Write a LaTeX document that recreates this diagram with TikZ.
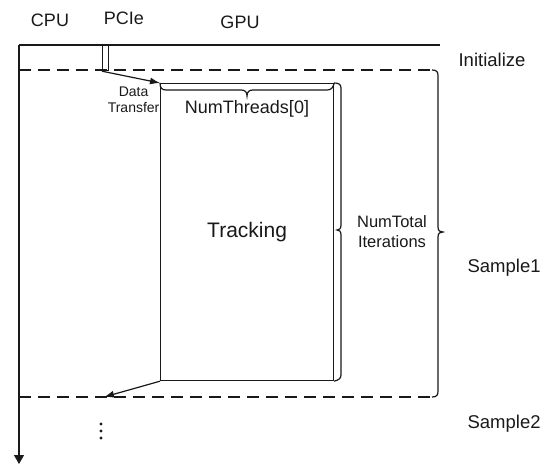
\documentclass[tikz,border=0pt]{standalone}
\usepackage{fontspec}
\setmainfont{Liberation Sans}
\usetikzlibrary{arrows.meta}
\begin{document}
\begin{tikzpicture}[x=1pt,y=-1pt,
  line width=1.2pt, draw=black!90,
  lab/.style={font=\fontsize{18}{21}\selectfont, inner sep=0pt, text=black!90},
  side/.style={font=\fontsize{18.5}{21}\selectfont, inner sep=0pt, text=black!90, anchor=west},
  small/.style={font=\fontsize{14}{16}\selectfont, inner sep=0pt, align=center, text=black!90},
  dash16/.style={dash pattern=on 12pt off 7pt},
  arr/.style={-{Latex[length=10pt,width=7pt]}},
]
\useasboundingbox (0,0) rectangle (549,465);
% header labels
\node[lab] (cpu) at (50,20) {CPU};
\node[lab] (pcie) at (124,18) {PCIe};
\node[lab] (gpu) at (240,22) {GPU};
\node[side] (init) at (458,60) {Initialize};
\node[side] (s1) at (467,268) {Sample1};
\node[side] (s2) at (467,424) {Sample2};
% time axis
\coordinate (tl) at (19,45);
\coordinate (tr) at (440,45);
\coordinate (tb) at (19,464);
\draw (tr) -- (tl);
\draw[-{Triangle[length=9pt,width=10pt]}] (tl) -- (tb);
% dashed sample boundaries
\coordinate (d1l) at (19,70);
\coordinate (d1r) at (432,70);
\coordinate (d2l) at (19,397);
\coordinate (d2r) at (432,397);
\draw[dash16] (d1l) -- (d1r);
\draw[dash16] (d2l) -- (d2r);
% Sample1 brace
\draw (d1r) .. controls (437,70) and (438,72) .. (438,76) -- (438,227)
  .. controls (438,231) and (440,232) .. (443,232)
  .. controls (440,232) and (438,233) .. (438,237) -- (438,391)
  .. controls (438,395) and (437,397) .. (d2r);
% PCIe bar
\node[draw, anchor=north west, minimum width=6pt, minimum height=25pt, inner sep=0pt] (bar) at (102,45) {};
% tracking box
\node[draw, anchor=north west, minimum width=173pt, minimum height=297pt, inner sep=0pt,
  font=\fontsize{21}{24}\selectfont, text=black!90] (track) at (160,83) {Tracking};
% NumThreads brace
\draw (track.north west) .. controls (160,88) and (162,90) .. (166,90) -- (241,90)
  .. controls (245,90) and (247,92) .. (247,96)
  .. controls (247,92) and (249,90) .. (253,90) -- (327,90)
  .. controls (331,90) and (333,88) .. (track.north east);
\node[font=\fontsize{18}{21}\selectfont, inner sep=0pt, text=black!90] (nt) at (247,109) {NumThreads[0]};
% NumTotal brace
\draw (track.north east) .. controls (338,83) and (341,84) .. (341,88) -- (341,225)
  .. controls (341,229) and (339,230) .. (337,230)
  .. controls (339,230) and (341,231) .. (341,235) -- (341,375)
  .. controls (341,379) and (338,380) .. (track.south east);
\node[font=\fontsize{16.5}{20}\selectfont, inner sep=0pt, align=center, text=black!90] (ntot) at (392,232) {NumTotal\\Iterations};
% data transfers
\draw[arr] (bar.south west) -- (track.north west);
\coordinate (back) at (104,397);
\draw[arr] (track.south west) -- (back);
\node[small, anchor=east] (dt) at (160,100) {Data\\Transfer};
% continuation dots
\fill[black!90] (101,424) circle (1.6pt) (101,431) circle (1.6pt) (101,438) circle (1.6pt);
\end{tikzpicture}
\end{document}
